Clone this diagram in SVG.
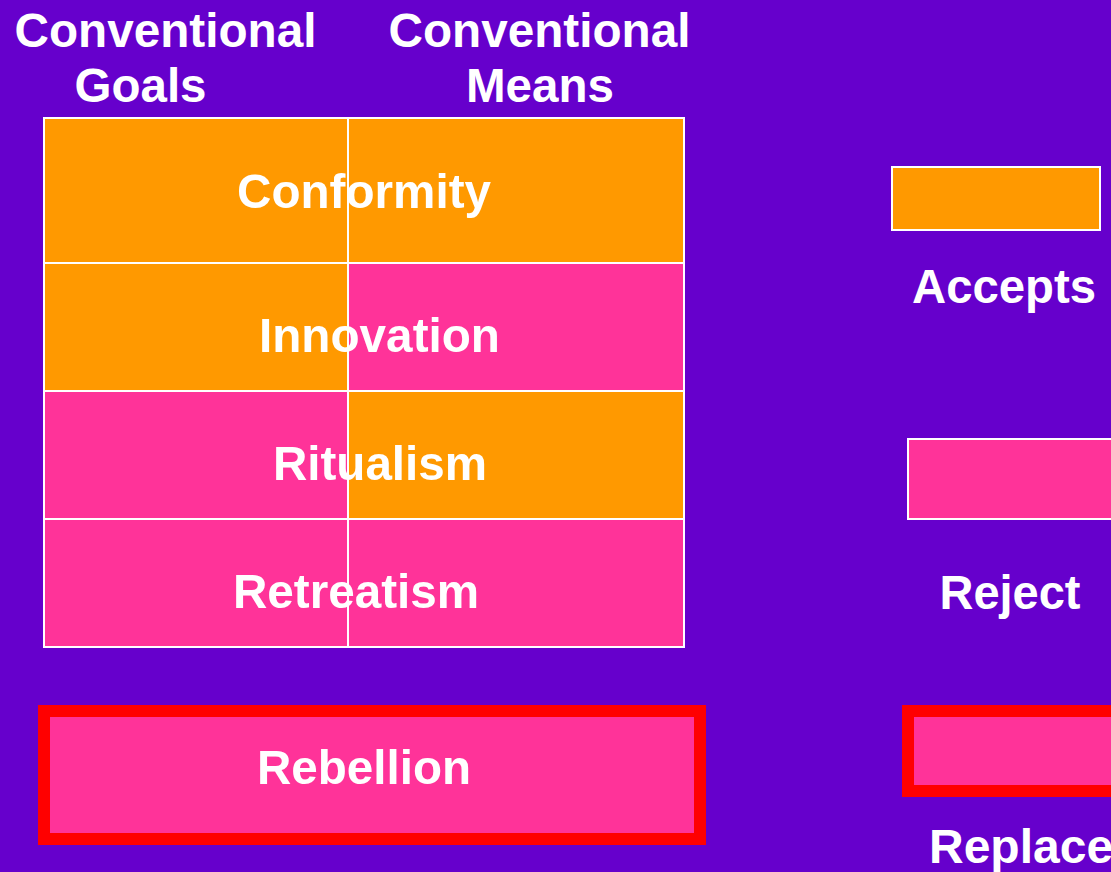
<svg xmlns="http://www.w3.org/2000/svg" width="1111" height="872" viewBox="0 0 1111 872">
  <style>
    .lbl { font-family: "Liberation Sans", Arial, sans-serif; font-weight: bold; fill: #FFFFFF; }
    .hdr { font-size: 48px; text-anchor: middle; }
    .cell { font-size: 49px; text-anchor: middle; }
    .acc { fill: #FF9900; }
    .rej { fill: #FF3399; }
    .grid { stroke: #FFFFFF; stroke-width: 2; fill: none; }
    .repl { fill: #FF3399; stroke: #FF0000; stroke-width: 12; }
  </style>
  <rect x="0" y="0" width="1111" height="872" fill="#6600CC"/>

  <!-- column headings -->
  <g id="heading-goals">
    <text class="lbl hdr" x="165.5" y="47" textLength="302" lengthAdjust="spacingAndGlyphs">Conventional</text>
    <text class="lbl hdr" x="140.5" y="102" textLength="132" lengthAdjust="spacingAndGlyphs">Goals</text>
  </g>
  <g id="heading-means">
    <text class="lbl hdr" x="539.5" y="47" textLength="302" lengthAdjust="spacingAndGlyphs">Conventional</text>
    <text class="lbl hdr" x="540" y="102" textLength="148" lengthAdjust="spacingAndGlyphs">Means</text>
  </g>

  <!-- adaptation table: goals column | means column -->
  <g id="conformity">
    <rect class="acc" x="44" y="118" width="304" height="145"/>
    <rect class="acc" x="348" y="118" width="336" height="145"/>
  </g>
  <g id="innovation">
    <rect class="acc" x="44" y="263" width="304" height="128"/>
    <rect class="rej" x="348" y="263" width="336" height="128"/>
  </g>
  <g id="ritualism">
    <rect class="rej" x="44" y="391" width="304" height="128"/>
    <rect class="acc" x="348" y="391" width="336" height="128"/>
  </g>
  <g id="retreatism">
    <rect class="rej" x="44" y="519" width="304" height="128"/>
    <rect class="rej" x="348" y="519" width="336" height="128"/>
  </g>
  <g id="table-lines" class="grid">
    <rect x="44" y="118" width="640" height="529"/>
    <line x1="348" y1="118" x2="348" y2="647"/>
    <line x1="44" y1="263" x2="684" y2="263"/>
    <line x1="44" y1="391" x2="684" y2="391"/>
    <line x1="44" y1="519" x2="684" y2="519"/>
  </g>
  <g id="table-labels">
    <text class="lbl cell" x="364" y="208" font-size="50" textLength="254" lengthAdjust="spacingAndGlyphs">Conformity</text>
    <text class="lbl cell" x="379.5" y="352" textLength="241" lengthAdjust="spacingAndGlyphs">Innovation</text>
    <text class="lbl cell" x="380" y="480" textLength="214" lengthAdjust="spacingAndGlyphs">Ritualism</text>
    <text class="lbl cell" x="356" y="608" textLength="246" lengthAdjust="spacingAndGlyphs">Retreatism</text>
  </g>

  <g id="rebellion">
    <rect class="repl" x="44" y="711" width="656" height="128"/>
    <text class="lbl cell" x="364" y="784" textLength="214" lengthAdjust="spacingAndGlyphs">Rebellion</text>
  </g>

  <!-- key -->
  <g id="key-accepts">
    <rect class="acc" x="892" y="167" width="208" height="63" stroke="#FFFFFF" stroke-width="2"/>
    <text class="lbl hdr" x="1004" y="303" textLength="184" lengthAdjust="spacingAndGlyphs">Accepts</text>
  </g>
  <g id="key-reject">
    <rect class="rej" x="908" y="439" width="220" height="80" stroke="#FFFFFF" stroke-width="2"/>
    <text class="lbl hdr" x="1010" y="609" textLength="141" lengthAdjust="spacingAndGlyphs">Reject</text>
  </g>
  <g id="key-replace">
    <rect class="repl" x="908" y="711" width="220" height="80"/>
    <text class="lbl" x="929" y="863" font-size="48">Replace</text>
  </g>
</svg>
